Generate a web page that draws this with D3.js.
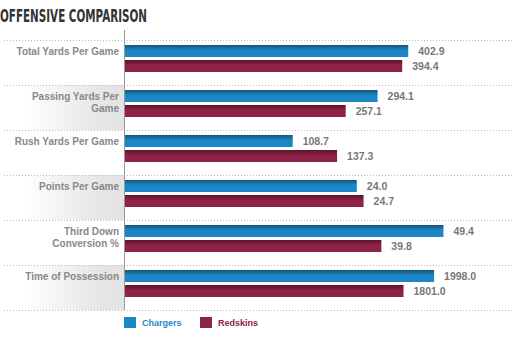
<!DOCTYPE html>
<html>
<head>
<meta charset="utf-8">
<script src="https://cdn.jsdelivr.net/npm/d3@7"></script>
<style>
  body { margin: 0; background: #fff; }
  svg { display: block; }
</style>
</head>
<body>
<div id="canvas"></div>
<script>
const categories = ["Total Yards Per Game", "Passing Yards Per\nGame", "Rush Yards Per Game",
    "Points Per Game", "Third Down\nConversion %", "Time of Possession"];
const chargers = [402.9, 294.1, 108.7, 24.0, 49.4, 1998.0];
const redskins = [394.4, 257.1, 137.3, 24.7, 39.8, 1801.0];
// each stat is drawn against its own maximum
const scaleMax = [550, 450, 250, 40, 60, 2500];
const teams = ["Chargers", "Redskins"];

const width = 512, height = 352;
const margin = { top: 40, left: 124, bottom: 42 };

const svg = d3.select("#canvas")
    .append("svg")
    .attr("width", width)
    .attr("height", height);

const defs = svg.append("defs");

const fade = defs.append("linearGradient").attr("id", "fade");
fade.append("stop").attr("offset", "20%").attr("stop-color", "#fff");
fade.append("stop").attr("offset", "80%").attr("stop-color", "#e6e6e6");
fade.append("stop").attr("offset", "100%").attr("stop-color", "#e3e3e3");

const barColors = { Chargers: ["#175479", "#1b87c6"], Redskins: ["#5a1529", "#902148"] };
teams.forEach(t => {
    const g = defs.append("linearGradient").attr("id", "g" + t)
        .attr("x1", 0).attr("x2", 0).attr("y1", 0).attr("y2", 1);
    g.append("stop").attr("offset", "0%").attr("stop-color", barColors[t][0]);
    g.append("stop").attr("offset", "45%").attr("stop-color", barColors[t][1]);
    g.append("stop").attr("offset", "100%").attr("stop-color", barColors[t][1]);
});

// Title
svg.append("text")
    .attr("x", 0)
    .attr("y", 22)
    .attr("textLength", 147)
    .attr("lengthAdjust", "spacingAndGlyphs")
    .style("font-family", "'DejaVu Sans Condensed', 'DejaVu Sans'")
    .style("font-weight", "bold")
    .style("font-size", "18px")
    .style("fill", "#333")
    .text("OFFENSIVE COMPARISON");

// Bands
const y = d3.scaleBand()
    .domain(categories)
    .range([margin.top, height - margin.bottom]);

const rows = svg.append("g")
    .selectAll("g")
    .data(categories)
    .join("g")
    .attr("transform", d => `translate(0,${y(d)})`);

rows.filter((d, i) => i % 2 === 1)
    .append("rect")
    .attr("x", 0)
    .attr("width", margin.left)
    .attr("height", y.bandwidth())
    .attr("fill", "url(#fade)");

// dotted separators
svg.append("g")
    .selectAll("line")
    .data(categories.concat(["end"]))
    .join("line")
    .attr("x1", 4)
    .attr("x2", width)
    .attr("y1", (d, i) => i < categories.length ? y(d) + 0.5 : y.range()[1] + 0.5)
    .attr("y2", (d, i) => i < categories.length ? y(d) + 0.5 : y.range()[1] + 0.5)
    .attr("stroke", "#bbb")
    .attr("stroke-dasharray", "1,2");

// category labels
rows.append("text")
    .attr("text-anchor", "end")
    .style("font-family", "'Liberation Sans', Arial, sans-serif")
    .style("font-weight", "bold")
    .style("font-size", "10px")
    .style("fill", "#888")
    .selectAll("tspan")
    .data(d => d.split("\n"))
    .join("tspan")
    .attr("x", margin.left - 5)
    .attr("y", (d, i) => 15 + i * 12)
    .text(d => d);

// bars
const barY = d3.scaleBand().domain(teams).range([5, 32]).paddingInner(0.2);

rows.each(function (cat, i) {
    const x = d3.scaleLinear().domain([0, scaleMax[i]]).range([0, width - margin.left]);
    const vals = [chargers[i], redskins[i]];
    const g = d3.select(this);
    teams.forEach((t, j) => {
        g.append("rect")
            .attr("x", margin.left)
            .attr("y", barY(t))
            .attr("width", x(vals[j]))
            .attr("height", barY.bandwidth())
            .attr("fill", `url(#g${t})`);
        g.append("text")
            .attr("x", margin.left + x(vals[j]) + 10)
            .attr("y", barY(t) + barY.bandwidth() / 2)
            .attr("dominant-baseline", "central")
            .style("font-family", "'Liberation Sans', Arial, sans-serif")
            .style("font-weight", "bold")
            .style("font-size", "10.5px")
            .style("fill", "#777")
            .text(d3.format(".1f")(vals[j]));
    });
});

// axis line
svg.append("line")
    .attr("x1", margin.left + 0.5)
    .attr("x2", margin.left + 0.5)
    .attr("y1", 30)
    .attr("y2", y.range()[1])
    .attr("stroke", "#999");

// legend
const legend = svg.append("g")
    .selectAll("g")
    .data(teams)
    .join("g")
    .attr("transform", (d, i) => `translate(${124 + i * 76},317)`);

legend.append("rect")
    .attr("width", 12)
    .attr("height", 11)
    .attr("fill", d => barColors[d][1]);

legend.append("text")
    .attr("x", 18)
    .attr("y", 9)
    .style("font-family", "'Liberation Sans', Arial, sans-serif")
    .style("font-weight", "bold")
    .style("font-size", "9px")
    .style("fill", d => barColors[d][1])
    .text(d => d);
</script>
</body>
</html>
